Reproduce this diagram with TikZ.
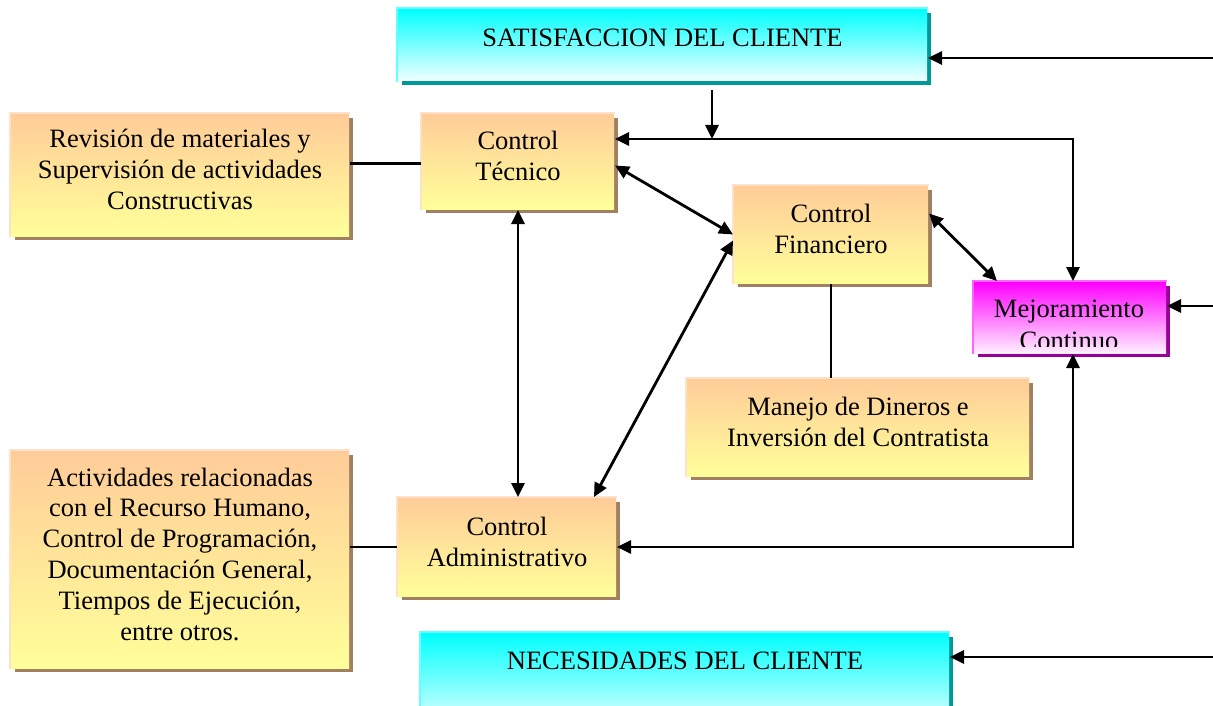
\documentclass[tikz,border=0pt]{standalone}
\usepackage{fontspec}
\setmainfont{Liberation Serif}
\usetikzlibrary{shadows,arrows.meta}
\definecolor{orTop}{HTML}{FFCC99}
\definecolor{orBot}{HTML}{FFFF99}
\definecolor{orSh}{HTML}{A08060}
\definecolor{orEdge}{HTML}{FFE0C8}
\definecolor{cyTop}{HTML}{00FFFF}
\definecolor{cyBot}{HTML}{F2FFFF}
\definecolor{cySh}{HTML}{009999}
\definecolor{cyEdge}{HTML}{66FFFF}
\definecolor{mgTop}{HTML}{FF00FF}
\definecolor{mgBot}{HTML}{FFF0FF}
\definecolor{mgSh}{HTML}{990099}
\definecolor{mgEdge}{HTML}{FF66FF}
\tikzset{
  box/.style={anchor=north west, inner sep=2pt, outer sep=1pt, align=center,
    font=\fontsize{26.5}{30.8}\selectfont, text=black},
  orbox/.style={box, top color=orTop, bottom color=orBot, text depth=11pt,
    drop shadow={shadow xshift=4pt, shadow yshift=-4pt, fill=orSh, opacity=1}},
  cybox/.style={box, top color=cyTop, bottom color=cyBot,
    drop shadow={shadow xshift=4pt, shadow yshift=-4pt, fill=cySh, opacity=1}},
  mgbox/.style={box, top color=mgTop, bottom color=mgBot,
    drop shadow={shadow xshift=4pt, shadow yshift=-4pt, fill=mgSh, opacity=1}},
  oredge/.style={orEdge, line width=2pt},
  cyedge/.style={cyEdge, line width=2pt},
  mgedge/.style={mgEdge, line width=2pt},
  arr/.style={line width=2.8pt, -{Triangle[length=14pt,width=13pt]}},
  darr/.style={line width=2.8pt, {Triangle[length=14pt,width=13pt]}-{Triangle[length=14pt,width=13pt]}},
  link/.style={line width=2.2pt},
}
\begin{document}
\begin{tikzpicture}[x=1pt,y=-1pt]
\clip (0,0) rectangle (1213,706);
\fill[white] (0,0) rectangle (1213,706);

% boxes
\node[cybox, minimum width=529pt, minimum height=72pt, text depth=14pt] (sat) at (397,8) {SATISFACCION DEL CLIENTE};
\node[orbox, minimum width=192pt, minimum height=95pt] (tec) at (421,113) {Control\\Técnico};
\node[orbox, minimum width=338pt, minimum height=122pt] (rev) at (10,113) {Revisión de materiales y\\Supervisión de actividades\\Constructivas};
\node[orbox, minimum width=194pt, minimum height=97pt] (fin) at (733,185) {Control\\Financiero};
\node[mgbox, minimum width=192pt, minimum height=71pt] (mej) at (973,281) {};
\node[orbox, minimum width=342pt, minimum height=97pt] (man) at (686,378) {Manejo de Dineros e\\Inversión del Contratista};
\node[orbox, minimum width=218pt, minimum height=98pt] (adm) at (397,497) {Control\\Administrativo};
\node[orbox, minimum width=338pt, minimum height=217pt] (act) at (10,450) {Actividades relacionadas\\con el Recurso Humano,\\Control de Programación,\\Documentación General,\\Tiempos de Ejecución,\\entre otros.};
\node[cybox, minimum width=528pt, minimum height=100pt, text depth=44pt] (nec) at (420,632) {NECESIDADES DEL CLIENTE};

\begin{scope}
  \clip (973,281) rectangle (1165,346);
  \node[font=\fontsize{26.5}{31.5}\selectfont, align=center, inner sep=0pt] (mejtext) at (1069,325) {Mejoramiento\\Continuo};
\end{scope}

% light edges
\foreach \n in {tec,rev,fin,man,adm,act}{
  \draw[oredge] (\n.south west) -- (\n.north west) -- (\n.north east);
}
\draw[cyedge] (sat.south west) -- (sat.north west) -- (sat.north east);
\draw[cyedge] (nec.south west) -- (nec.north west) -- (nec.north east);
\draw[mgedge] (mej.south west) -- (mej.north west) -- (mej.north east);

% coordinates
\coordinate (s0) at (712,90);
\coordinate (j1) at (712,139);
\coordinate (c1) at (1073,139);
\coordinate (c2) at (1073,547);
\coordinate (e1) at (1213,58);
\coordinate (e2) at (1213,306);
\coordinate (e3) at (1213,657);

% plain links
\draw[link] ([yshift=-2pt]tec.west) -- ([yshift=-2pt]tec.west -| rev.east);
\draw[link] (adm.west) -- (adm.west -| act.east);
\draw[link] (fin.south) -- (fin.south |- man.north);

% arrows
\draw[arr] (s0) -- (j1);
\draw[darr] (c1 -| tec.east) -- (c1) -- (c1 |- mej.north);
\draw[darr] ([yshift=-4pt]tec.east) -- (fin.west);
\draw[darr] ([yshift=21pt]fin.east) -- ([xshift=24pt]mej.north west);
\draw[darr] (tec.south) -- (tec.south |- adm.north);
\draw[darr] ([yshift=-6pt]fin.west) -- ([xshift=-23pt]adm.north east);
\draw[darr] (c2 -| adm.east) -- (c2) -- (c2 |- mej.south);
\draw[arr] (e1) -- (e1 -| sat.east);
\draw[arr] (e2) -- (e2 -| mej.east);
\draw[arr] (e3) -- (e3 -| nec.east);
\end{tikzpicture}
\end{document}
